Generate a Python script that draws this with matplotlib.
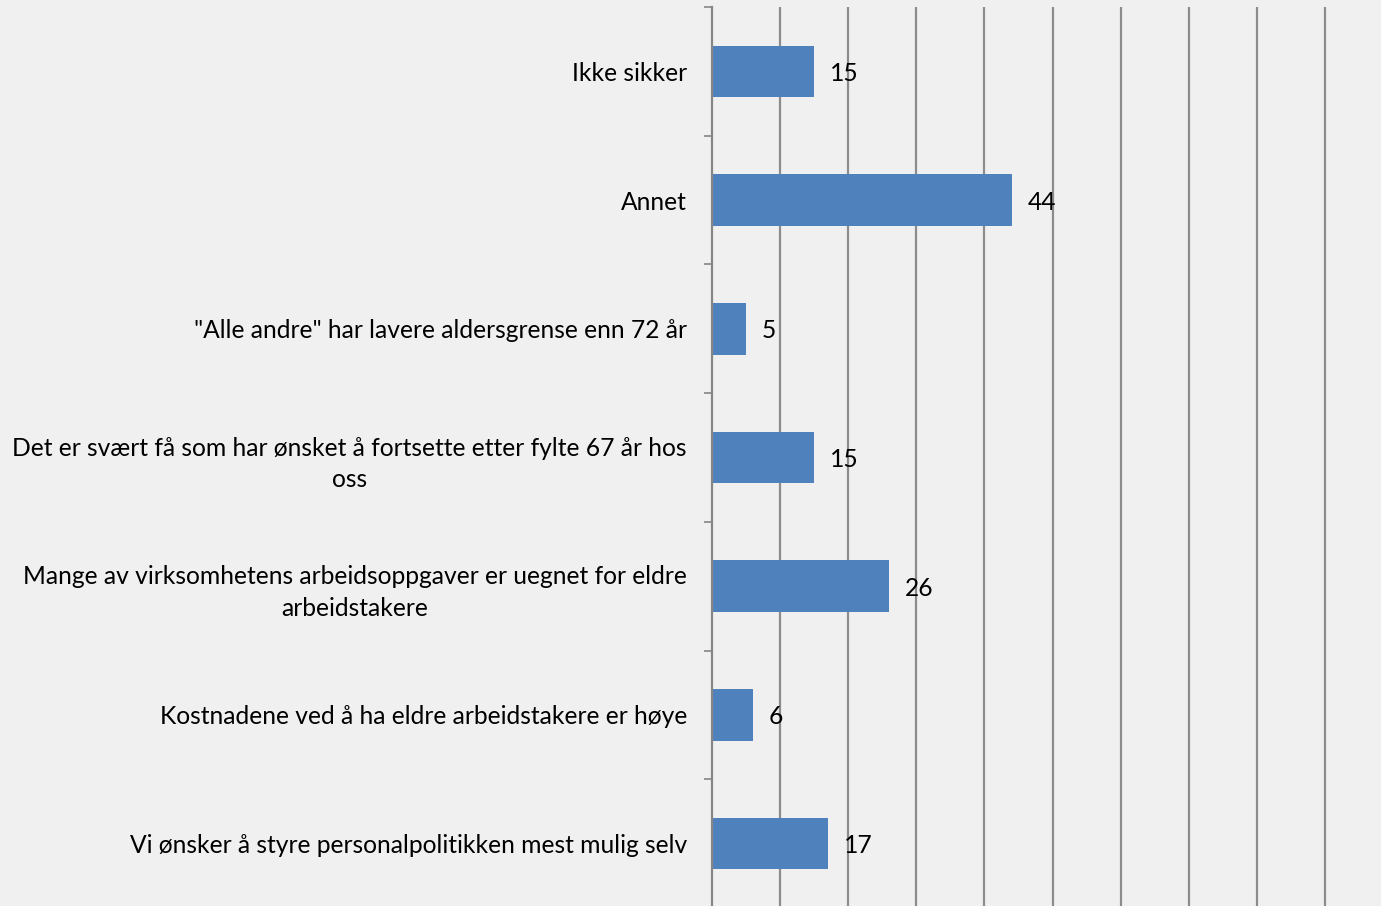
import matplotlib
matplotlib.use("Agg")
import matplotlib.pyplot as plt

categories = [
    "Ikke sikker",
    "Annet",
    '"Alle andre" har lavere aldersgrense enn 72 år',
    "Det er svært få som har ønsket å fortsette etter fylte 67 år hos\noss",
    "Mange av virksomhetens arbeidsoppgaver er uegnet for eldre\narbeidstakere",
    "Kostnadene ved å ha eldre arbeidstakere er høye",
    "Vi ønsker å styre personalpolitikken mest mulig selv",
]
values = [15, 44, 5, 15, 26, 6, 17]

plt.rcParams['font.family'] = ['Lato', 'DejaVu Sans']
FS = 17.7

W, H = 1381, 906
fig = plt.figure(figsize=(W / 100, H / 100), dpi=100, facecolor='#f0f0f0')
# axes runs 0..100, right part cut off by the figure edge
x0, x1 = 712, 712 + 681
y_top, y_bot = 7, 908
ax = fig.add_axes([x0 / W, 1 - y_bot / H, (x1 - x0) / W, (y_bot - y_top) / H])
ax.set_facecolor('#f0f0f0')

n = len(categories)
pos = list(range(n))
ax.barh(pos, values, height=0.4, color='#4f81bd', zorder=2)
ax.set_ylim(n - 0.5, -0.5)
ax.set_xlim(0, 100)

for p, v in zip(pos, values):
    ax.annotate(str(v), (v, p), xytext=(16, -2), textcoords='offset pixels',
                ha='left', va='center', fontsize=FS, color='black', zorder=3)

ax.set_xticks(range(10, 101, 10))
ax.xaxis.grid(True, color='#8c8c8c', linewidth=1.6, zorder=0)
ax.set_axisbelow(True)
ax.tick_params(axis='x', bottom=False, labelbottom=False)

ax.set_yticks(pos)
ax.set_yticklabels(categories, fontsize=FS)
for lbl in ax.get_yticklabels():
    lbl.set_multialignment('center')
    lbl.set_linespacing(1.45)
ax.tick_params(axis='y', which='major', length=0, pad=18)
ax.set_yticks([p + 0.5 for p in range(-1, n)], minor=True)
ax.tick_params(axis='y', which='minor', length=6, width=1.2, color='#868686',
               direction='out')

for s in ['top', 'right', 'bottom']:
    ax.spines[s].set_visible(False)
ax.spines['left'].set_color('#868686')
ax.spines['left'].set_linewidth(1.6)

fig.savefig('out.png', dpi=100, facecolor='#f0f0f0')
